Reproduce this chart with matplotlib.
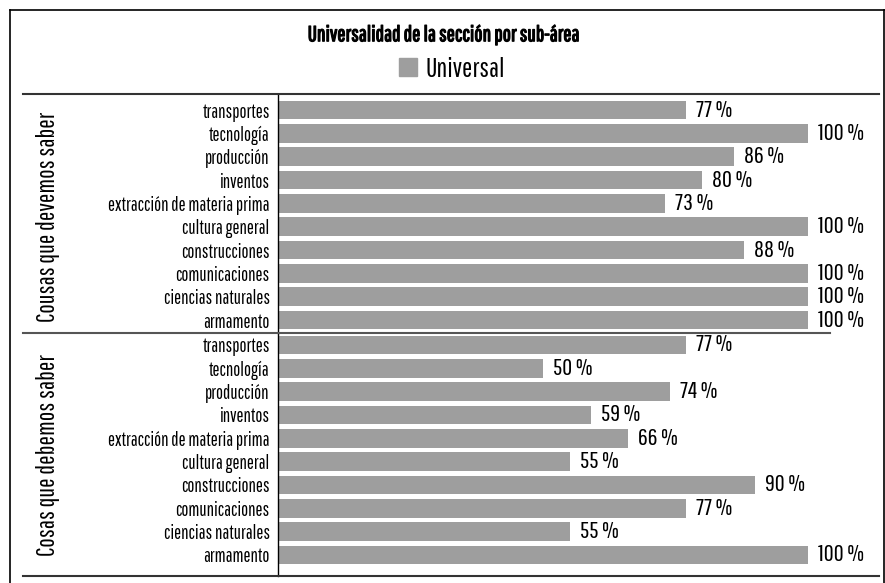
import matplotlib.pyplot as plt
import matplotlib.patheffects as pe
from matplotlib.lines import Line2D
from matplotlib.patches import Rectangle
from matplotlib import font_manager

# data
categories = ["transportes", "tecnología", "producción", "inventos",
              "extracción de materia prima", "cultura general", "construcciones",
              "comunicaciones", "ciencias naturales", "armamento"]
group_names = ["Cousas que devemos saber", "Cosas que debemos saber"]
devemos = [77, 100, 86, 80, 73, 100, 88, 100, 100, 100]
debemos = [77, 50, 74, 59, 66, 55, 90, 77, 55, 100]

names = {f.name for f in font_manager.fontManager.ttflist}


def pick(prefs):
    for p in prefs:
        if p in names:
            return p
    return "DejaVu Sans"


fam = pick(["Pathway Gothic One", "Roboto Condensed", "IBM Plex Sans Condensed", "Open Sans"])
plt.rcParams['font.family'] = [fam, 'DejaVu Sans']

W, H = 885, 583
fig = plt.figure(figsize=(W / 100, H / 100), dpi=100)
bar_color = "#9e9e9e"


def fx(px):
    return px / W


def fy(py):
    return 1 - py / H


xmax = 100 * (880 - 278) / (808 - 278)

ax1 = fig.add_axes([fx(278), fy(333), fx(880) - fx(278), fy(95) - fy(333)])
ax2 = fig.add_axes([fx(278), fy(576), fx(880) - fx(278), fy(333) - fy(576)])

for ax, vals, ylim in [(ax1, devemos, (9.557, -0.643)), (ax2, debemos, (9.9, -0.514))]:
    ypos = list(range(len(categories)))
    ax.barh(ypos, vals, height=0.8, color=bar_color, label="Universal")
    for y, v in zip(ypos, vals):
        ax.text(v + 1.9, y, f"{v} %", va="center", ha="left", fontsize=17.5)
    ax.set_yticks(ypos)
    ax.set_yticklabels(categories, fontsize=13.5)
    ax.tick_params(axis="y", length=0, pad=6)
    ax.set_xticks([])
    ax.set_xlim(0, xmax)
    ax.set_ylim(*ylim)
    for s in ["top", "right", "bottom"]:
        ax.spines[s].set_visible(False)
    ax.spines["left"].set_linewidth(1.0)
    ax.patch.set_alpha(0)

# outer frame and separator lines
fig.add_artist(Line2D([fx(10), fx(10)], [fy(10), 0], color="black", lw=1.2))
fig.add_artist(Line2D([fx(10), fx(885)], [fy(10), fy(10)], color="black", lw=1.2))
fig.add_artist(Line2D([fx(884), fx(884)], [fy(10), 0], color="black", lw=1.2))
fig.add_artist(Line2D([fx(23), fx(879)], [fy(94), fy(94)], color="#333333", lw=1.5))
fig.add_artist(Line2D([fx(23), fx(830)], [fy(333), fy(333)], color="#555555", lw=1.5))
fig.add_artist(Line2D([fx(23), fx(879)], [fy(576), fy(576)], color="#333333", lw=1.5))

fig.text(fx(48), fy(217), group_names[0], rotation=90, ha="center", va="center", fontsize=18)
fig.text(fx(48), fy(455), group_names[1], rotation=90, ha="center", va="center", fontsize=18)

fig.text(fx(443), fy(35), "Universalidad de la sección por sub-área",
         ha="center", va="center", fontsize=15.6,
         path_effects=[pe.withStroke(linewidth=0.9, foreground="black")])
fig.legend(handles=[Rectangle((0, 0), 1, 1, color=bar_color)], labels=["Universal"],
           loc="center", bbox_to_anchor=(fx(452), fy(69)), frameon=False,
           fontsize=19.5, handlelength=0.67, handleheight=0.6, handletextpad=0.33)

fig.savefig("out.png", dpi=100)
